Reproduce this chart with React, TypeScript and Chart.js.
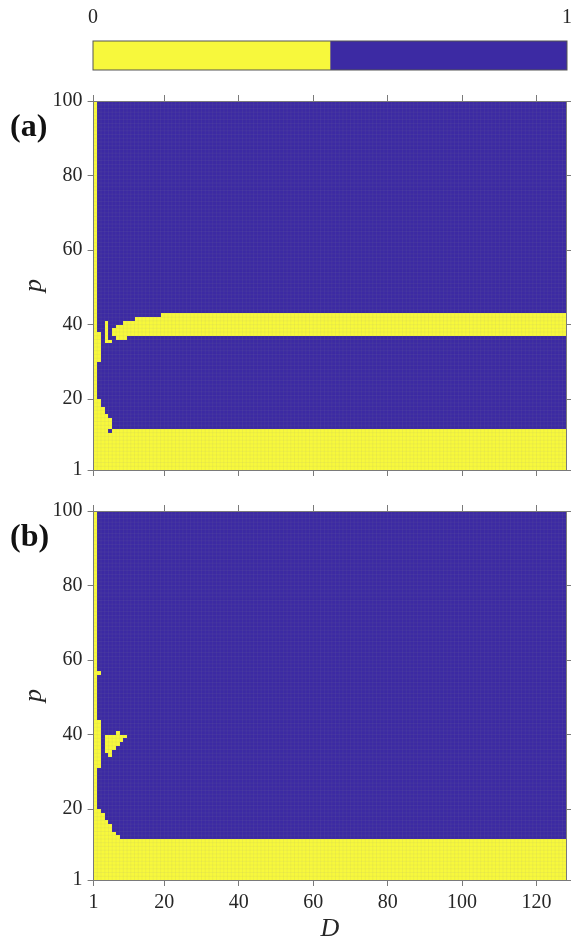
import React, { useEffect, useRef } from "react";
import { Chart, registerables } from "chart.js";
Chart.register(...registerables);

// ---------- data ----------
const D_MIN = 1;
const D_MAX = 128;
const P_MIN = 1;
const P_MAX = 100;
const D_TICKS = [1, 20, 40, 60, 80, 100, 120];
const P_TICKS = [1, 20, 40, 60, 80, 100];
const COLORBAR_TICKS = [0, 1];
const COLORBAR_YELLOW_PART = [0.5]; // value 0 -> yellow
const COLORBAR_BLUE_PART = [0.5]; // value 1 -> blue

// yellow (value 0) blocks of cells: [D from, D to, p from, p to] (inclusive cell indices)
const PANEL_A_YELLOW = [
  [1, 1, 1, 99],
  [2, 2, 1, 19], [2, 2, 30, 37],
  [3, 3, 1, 17],
  [4, 4, 1, 15], [4, 4, 35, 40],
  [5, 5, 1, 10], [5, 5, 12, 14], [5, 5, 35, 35],
  [6, 127, 1, 11],
  [6, 6, 37, 38],
  [7, 8, 36, 39],
  [9, 9, 36, 40],
  [10, 11, 37, 40],
  [12, 18, 37, 41],
  [19, 127, 37, 42],
];

const PANEL_B_YELLOW = [
  [1, 1, 1, 99],
  [2, 2, 1, 19], [2, 2, 31, 43], [2, 2, 56, 56],
  [3, 3, 1, 18],
  [4, 4, 1, 16], [4, 4, 35, 39],
  [5, 5, 1, 15], [5, 5, 34, 39],
  [6, 6, 1, 13], [6, 6, 36, 39],
  [7, 7, 1, 12], [7, 7, 37, 40],
  [8, 127, 1, 11],
  [8, 8, 38, 39],
  [9, 9, 39, 39],
];

// ---------- style ----------
const YELLOW = "#f7f83c";
const BLUE = "#3c2aa3";
const AXIS = "#7a7a7a";
const TEXT = "#262626";
const CELL_LINE = "rgba(150,150,150,0.16)";
const SERIF = "'Liberation Serif', 'Times New Roman', serif";
const W = 571;
const LEFT = 93.6;
const RIGHT_GAP = W - 566.3;

function Colorbar() {
  const ref = useRef<HTMLCanvasElement | null>(null);
  useEffect(() => {
    const frame = {
      id: "cbframe",
      afterDatasetsDraw(chart: any) {
        const { ctx, chartArea: a } = chart;
        ctx.save();
        ctx.strokeStyle = "#555";
        ctx.lineWidth = 1;
        ctx.strokeRect(a.left, a.top, a.right - a.left, a.bottom - a.top);
        ctx.restore();
      },
    };
    const chart = new Chart(ref.current as HTMLCanvasElement, {
      type: "bar",
      data: {
        labels: [""],
        datasets: [
          { data: COLORBAR_YELLOW_PART, backgroundColor: YELLOW, barPercentage: 1, categoryPercentage: 1, borderWidth: 0 },
          { data: COLORBAR_BLUE_PART, backgroundColor: BLUE, barPercentage: 1, categoryPercentage: 1, borderWidth: 0 },
        ],
      },
      options: {
        indexAxis: "y",
        responsive: false,
        animation: false,
        layout: { padding: { left: 93, right: 4, bottom: 8, top: 0 } },
        plugins: { legend: { display: false }, tooltip: { enabled: false } },
        scales: {
          x: {
            type: "linear",
            position: "top",
            stacked: true,
            min: 0,
            max: 1,
            afterBuildTicks: (s: any) => {
              s.ticks = COLORBAR_TICKS.map((v) => ({ value: v }));
            },
            afterFit: (s: any) => {
              s.height = 41;
              s.paddingLeft = 0;
              s.paddingRight = 0;
            },
            grid: { display: false, drawTicks: false },
            border: { display: false },
            ticks: { color: TEXT, font: { family: SERIF, size: 20 }, padding: 11, maxRotation: 0 },
          },
          y: { stacked: true, display: false },
        },
      } as any,
      plugins: [frame],
    });
    return () => chart.destroy();
  }, []);
  return (
    <canvas
      ref={ref}
      width={W}
      height={78}
      style={{ position: "absolute", left: 0, top: 0, width: W, height: 78 }}
    />
  );
}

function Panel(props: { top: number; height: number; bottomAxis: number; runs: number[][]; tag: string; showX: boolean }) {
  const ref = useRef<HTMLCanvasElement | null>(null);
  const { top, height, bottomAxis, runs, tag, showX } = props;
  useEffect(() => {
    const heat = {
      id: "heat",
      beforeDatasetsDraw(chart: any) {
        const { ctx, chartArea: a, scales } = chart;
        const x = scales.x;
        const y = scales.y;
        const R = Math.round;
        ctx.save();
        ctx.beginPath();
        ctx.rect(a.left, a.top, a.right - a.left, a.bottom - a.top);
        ctx.clip();
        const bx0 = R(x.getPixelForValue(D_MIN));
        const bx1 = R(x.getPixelForValue(D_MAX));
        const by0 = R(y.getPixelForValue(P_MAX));
        const by1 = R(y.getPixelForValue(P_MIN));
        ctx.fillStyle = BLUE;
        ctx.fillRect(bx0 - 1, by0 - 1, bx1 - bx0 + 2, by1 - by0 + 2);
        ctx.fillStyle = YELLOW;
        for (const [d0, d1, p0, p1] of runs) {
          const x0 = R(x.getPixelForValue(d0));
          const x1 = R(x.getPixelForValue(d1 + 1));
          const y0 = R(y.getPixelForValue(p1 + 1));
          const y1 = R(y.getPixelForValue(p0));
          ctx.fillRect(d0 === D_MIN ? x0 - 1 : x0, y0, x1 - x0 + (d0 === D_MIN ? 1 : 0), y1 - y0 + (p0 === P_MIN ? 1 : 0));
        }
        ctx.strokeStyle = CELL_LINE;
        ctx.lineWidth = 0.6;
        ctx.beginPath();
        for (let d = D_MIN + 1; d < D_MAX; d++) {
          const px = x.getPixelForValue(d);
          ctx.moveTo(px, a.top);
          ctx.lineTo(px, a.bottom);
        }
        for (let p = P_MIN + 1; p < P_MAX; p++) {
          const py = y.getPixelForValue(p);
          ctx.moveTo(a.left, py);
          ctx.lineTo(a.right, py);
        }
        ctx.stroke();
        ctx.restore();
      },
      afterDraw(chart: any) {
        const { ctx, chartArea: a } = chart;
        ctx.save();
        ctx.fillStyle = "#111";
        ctx.font = `bold 32px ${SERIF}`;
        ctx.textBaseline = "alphabetic";
        ctx.textAlign = "left";
        ctx.fillText(tag, 10, a.top + 35);
        ctx.restore();
      },
    };
    const gridOpts = { display: true, drawOnChartArea: false, drawTicks: true, tickLength: 6, color: AXIS, lineWidth: 1, z: 1 };
    const borderOpts = { display: true, color: AXIS, width: 1, z: 1 };
    const chart = new Chart(ref.current as HTMLCanvasElement, {
      type: "scatter",
      data: { datasets: [] },
      options: {
        responsive: false,
        animation: false,
        layout: { padding: 0 },
        plugins: { legend: { display: false }, tooltip: { enabled: false } },
        scales: {
          x: {
            type: "linear",
            position: "bottom",
            min: D_MIN,
            max: D_MAX,
            afterBuildTicks: (s: any) => {
              s.ticks = D_TICKS.map((v) => ({ value: v }));
            },
            afterFit: (s: any) => {
              s.height = bottomAxis;
            },
            grid: gridOpts,
            border: borderOpts,
            ticks: { display: showX, color: TEXT, font: { family: SERIF, size: 20 }, padding: 5, maxRotation: 0 },
            title: {
              display: showX,
              text: "D",
              color: TEXT,
              font: { family: SERIF, size: 26, style: "italic", lineHeight: 0.8 },
              padding: { top: 0, bottom: 0 },
            },
          },
          xTop: {
            type: "linear",
            position: "top",
            min: D_MIN,
            max: D_MAX,
            afterBuildTicks: (s: any) => {
              s.ticks = D_TICKS.map((v) => ({ value: v }));
            },
            afterFit: (s: any) => {
              s.height = 21;
            },
            grid: gridOpts,
            border: borderOpts,
            ticks: { display: false },
          },
          y: {
            type: "linear",
            position: "left",
            min: P_MIN,
            max: P_MAX,
            afterBuildTicks: (s: any) => {
              s.ticks = P_TICKS.map((v) => ({ value: v }));
            },
            afterFit: (s: any) => {
              s.width = LEFT;
            },
            grid: gridOpts,
            border: borderOpts,
            ticks: { color: TEXT, font: { family: SERIF, size: 20 }, padding: 5 },
            title: {
              display: true,
              text: "p",
              color: TEXT,
              font: { family: SERIF, size: 26, style: "italic", lineHeight: 1 },
              padding: { top: 21, bottom: 0 },
            },
          },
          yRight: {
            type: "linear",
            position: "right",
            min: P_MIN,
            max: P_MAX,
            afterBuildTicks: (s: any) => {
              s.ticks = P_TICKS.map((v) => ({ value: v }));
            },
            afterFit: (s: any) => {
              s.width = RIGHT_GAP;
            },
            grid: gridOpts,
            border: borderOpts,
            ticks: { display: false },
          },
        },
      } as any,
      plugins: [heat],
    });
    return () => chart.destroy();
  }, []);
  return (
    <canvas
      ref={ref}
      width={W}
      height={height}
      style={{ position: "absolute", left: 0, top, width: W, height }}
    />
  );
}

export default function App() {
  return (
    <div style={{ position: "absolute", left: 0, top: 0, width: W, height: 940, background: "#fff" }}>
      <Colorbar />
      <Panel top={80} height={410} bottomAxis={20} runs={PANEL_A_YELLOW} tag="(a)" showX={false} />
      <Panel top={490} height={450} bottomAxis={60} runs={PANEL_B_YELLOW} tag="(b)" showX={true} />
    </div>
  );
}
